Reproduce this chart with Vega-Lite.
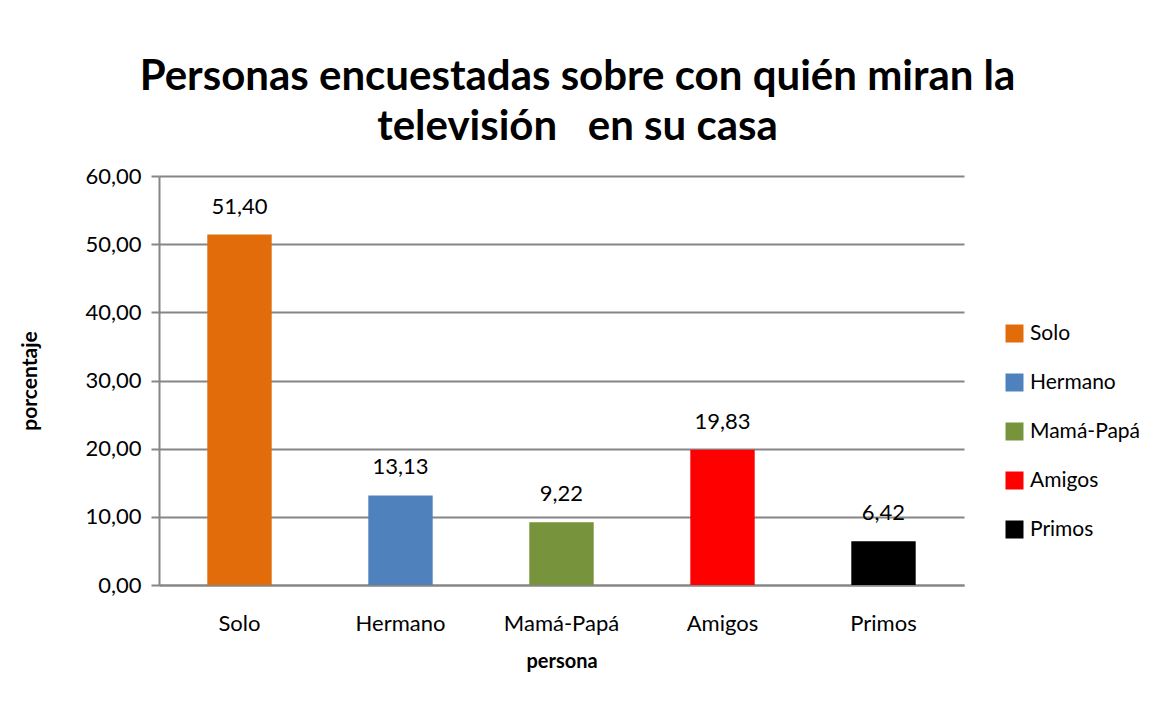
{
  "$schema": "https://vega.github.io/schema/vega-lite/v6.json",
  "autosize": "none",
  "width": 805,
  "height": 409,
  "padding": {"left": 159, "top": 176, "right": 212, "bottom": 119},
  "background": "white",
  "config": {
    "locale": {"number": {"decimal": ",", "thousands": ".", "grouping": [3], "currency": ["", " €"]}},
    "font": "Lato",
    "view": {"stroke": null}
  },
  "title": {
    "text": ["Personas encuestadas sobre con quién miran la", "televisión\u00a0\u00a0\u00a0en su casa"],
    "font": "Lato",
    "fontSize": 42,
    "fontWeight": "bold",
    "color": "#000000",
    "anchor": "middle",
    "dx": 16,
    "lineHeight": 50,
    "offset": 16,
    "limit": 1100
  },
  "data": {
    "values": [
      {"persona": "Solo", "porcentaje": 51.40},
      {"persona": "Hermano", "porcentaje": 13.13},
      {"persona": "Mamá-Papá", "porcentaje": 9.22},
      {"persona": "Amigos", "porcentaje": 19.83},
      {"persona": "Primos", "porcentaje": 6.42}
    ]
  },
  "encoding": {
    "x": {
      "field": "persona", "type": "nominal", "sort": null,
      "scale": {"paddingInner": 0.6, "paddingOuter": 0.3},
      "axis": {
        "title": "persona", "titleFontSize": 20, "titleFontWeight": "bold", "titleColor": "#000",
        "titlePadding": 17,
        "labelAngle": 0, "labelFontSize": 22, "labelColor": "#000", "labelPadding": 28,
        "ticks": false, "domainColor": "#868686", "domainWidth": 2, "grid": false
      }
    },
    "y": {
      "field": "porcentaje", "type": "quantitative",
      "scale": {"domain": [0, 60]},
      "axis": {
        "title": "porcentaje", "titleFontSize": 21, "titleFontWeight": "bold", "titleColor": "#000",
        "titlePadding": 44,
        "values": [0, 10, 20, 30, 40, 50, 60], "format": ".2f",
        "labelFontSize": 22, "labelColor": "#000", "labelPadding": 10,
        "tickSize": 8, "tickColor": "#868686", "tickWidth": 2,
        "domainColor": "#868686", "domainWidth": 2,
        "gridColor": "#868686", "gridWidth": 2
      }
    }
  },
  "layer": [
    {
      "mark": {"type": "bar"},
      "encoding": {
        "color": {
          "field": "persona", "type": "nominal", "sort": null,
          "scale": {"domain": ["Solo", "Hermano", "Mamá-Papá", "Amigos", "Primos"],
                    "range": ["#E36C0A", "#4F81BD", "#77933C", "#FF0000", "#000000"]},
          "legend": {
            "title": null, "orient": "none", "legendX": 845, "legendY": 147,
            "symbolType": "square", "symbolSize": 324, "symbolStrokeWidth": 0,
            "labelFontSize": 21, "labelColor": "#000", "labelOffset": 5,
            "rowPadding": 27
          }
        }
      }
    },
    {
      "mark": {"type": "text", "dy": -28, "fontSize": 22, "color": "#000"},
      "encoding": {
        "text": {"field": "porcentaje", "type": "quantitative", "format": ".2f"}
      }
    }
  ]
}
